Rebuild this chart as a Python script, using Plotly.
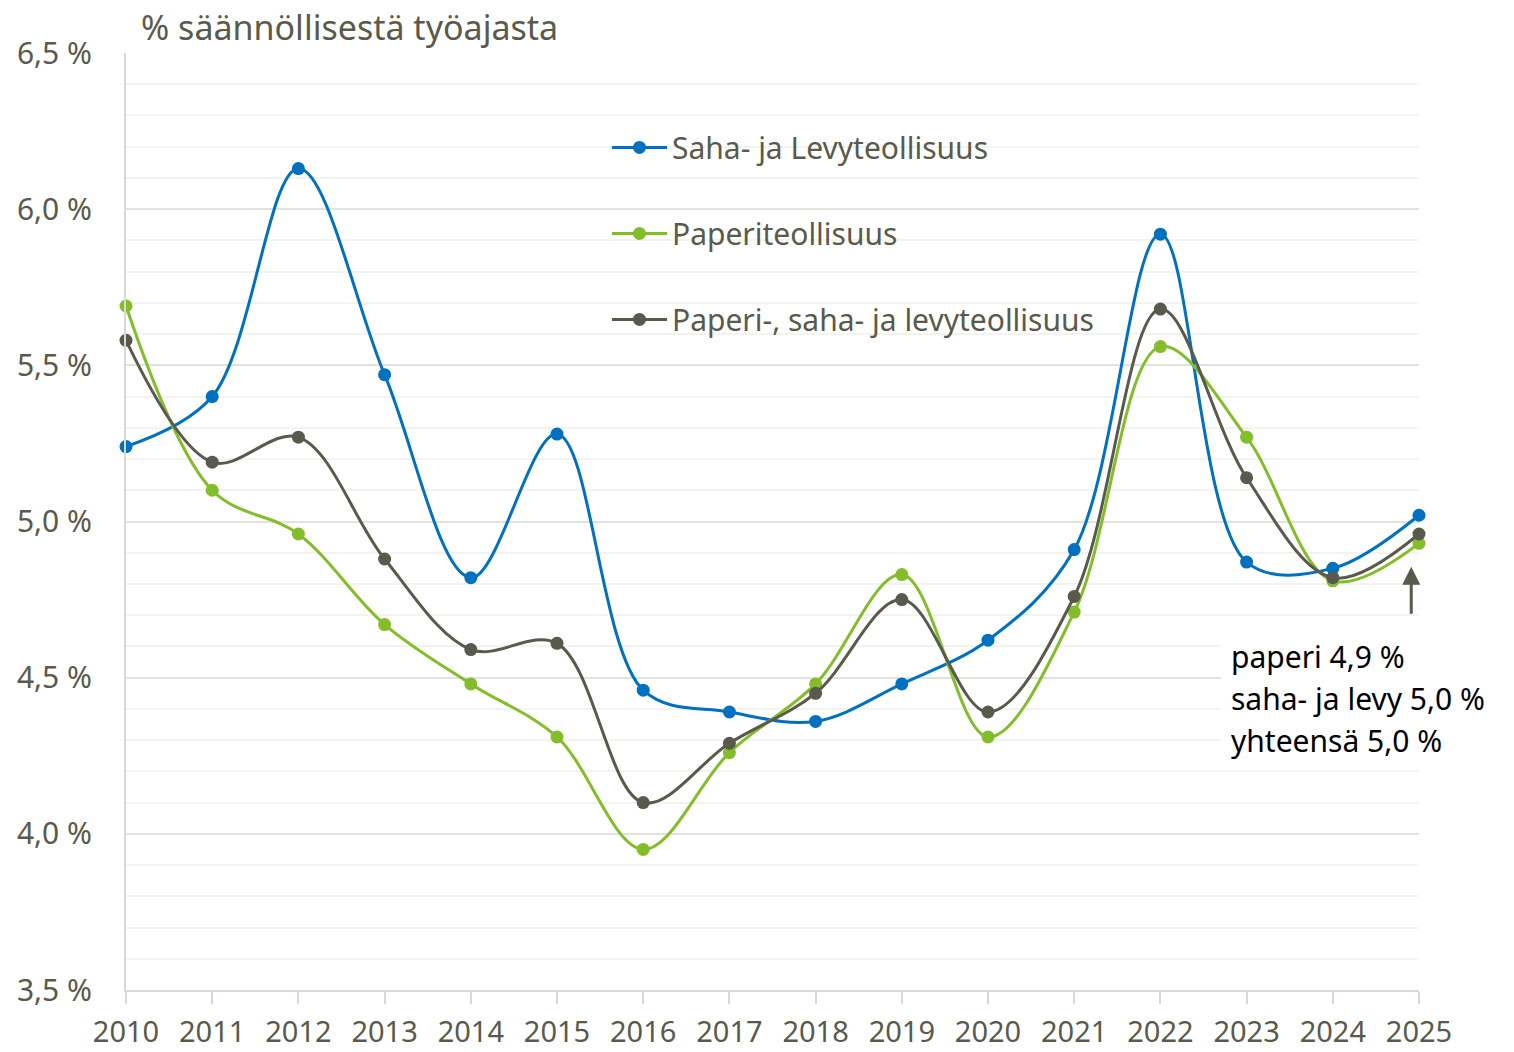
import plotly.graph_objects as go

years = list(range(2010, 2026))
saha = [5.24, 5.40, 6.13, 5.47, 4.82, 5.28, 4.46, 4.39, 4.36, 4.48, 4.62, 4.91, 5.92, 4.87, 4.85, 5.02]
paperi = [5.69, 5.10, 4.96, 4.67, 4.48, 4.31, 3.95, 4.26, 4.48, 4.83, 4.31, 4.71, 5.56, 5.27, 4.81, 4.93]
yhteensa = [5.58, 5.19, 5.27, 4.88, 4.59, 4.61, 4.10, 4.29, 4.45, 4.75, 4.39, 4.76, 5.68, 5.14, 4.82, 4.96]

names = ["Saha- ja Levyteollisuus", "Paperiteollisuus", "Paperi-, saha- ja levyteollisuus"]
colors = ["#0070C0", "#84BD2A", "#595A4C"]

ytickvals = [3.5, 4.0, 4.5, 5.0, 5.5, 6.0, 6.5]
yticktext = ["3,5 %", "4,0 %", "4,5 %", "5,0 %", "5,5 %", "6,0 %", "6,5 %"]

title_text = "% säännöllisestä työajasta"
note_lines = ["paperi 4,9 %", "saha- ja levy 5,0 %", "yhteensä 5,0 %"]

FONT = "Noto Sans"
TXT = "#595A4C"

fig = go.Figure()
for name, vals, col in zip(names, [saha, paperi, yhteensa], colors):
    fig.add_trace(go.Scatter(
        x=years, y=vals, name=name, legendgroup=name,
        mode="lines+markers",
        line=dict(color=col, width=3, shape="spline", smoothing=1.0),
        marker=dict(color=col, size=13),
        cliponaxis=False,
    ))

fig.update_layout(
    width=1506, height=1044,
    margin=dict(l=118, r=95, t=45, b=62),
    paper_bgcolor="white", plot_bgcolor="white",
    font=dict(family=FONT, size=30, color=TXT),
    showlegend=True,
    legend=dict(
        x=0.372, y=0.927, xanchor="left", yanchor="top",
        bgcolor="rgba(0,0,0,0)",
        font=dict(family=FONT, size=30, color=TXT),
        tracegroupgap=44, itemwidth=55,
    ),
    xaxis=dict(
        range=[2010, 2025], tickvals=years, ticktext=[str(y) for y in years],
        showgrid=False, zeroline=False, automargin=False,
        showline=True, linecolor="#D9D9D2", linewidth=2,
        ticks="outside", ticklen=12, tickcolor="#D9D9D2", tickwidth=2,
        tickfont=dict(family=FONT, size=29, color=TXT),
        ticklabelstandoff=3,
    ),
    yaxis=dict(
        range=[3.5, 6.5], tickvals=ytickvals, ticktext=yticktext,
        showgrid=True, gridcolor="#E3E3DE", gridwidth=2,
        zeroline=False, automargin=False,
        showline=True, linecolor="#D9D9D2", linewidth=2,
        ticks="", tickfont=dict(family=FONT, size=30, color=TXT),
        ticklabelstandoff=26,
        minor=dict(dtick=0.1, tick0=3.5, showgrid=True, gridcolor="#F3F3F0", gridwidth=2),
    ),
)

fig.add_annotation(
    text=title_text, xref="paper", yref="paper", x=0.011, y=1.0,
    xanchor="left", yanchor="bottom", yshift=2, showarrow=False, borderpad=0,
    font=dict(family=FONT, size=34, color=TXT),
)

# white box behind the note text
fig.add_shape(
    type="rect", xref="x", yref="y", x0=2022.70, x1=2025.0, y0=4.22, y1=4.655,
    fillcolor="white", line=dict(width=0), layer="above",
)

note_y = [4.567, 4.433, 4.298]
for txt, yy in zip(note_lines, note_y):
    fig.add_annotation(
        text=txt, xref="x", yref="y", x=2022.80, y=yy,
        xanchor="left", yanchor="middle", align="left", showarrow=False,
        font=dict(family=FONT, size=30, color="black"),
    )

fig.add_annotation(
    x=2024.91, y=4.855, ax=2024.91, ay=4.70, xref="x", yref="y", axref="x", ayref="y",
    text="", showarrow=True, arrowhead=2, arrowsize=1.2, arrowwidth=3, arrowcolor="#595A4C",
)

fig.write_html("out.html")
